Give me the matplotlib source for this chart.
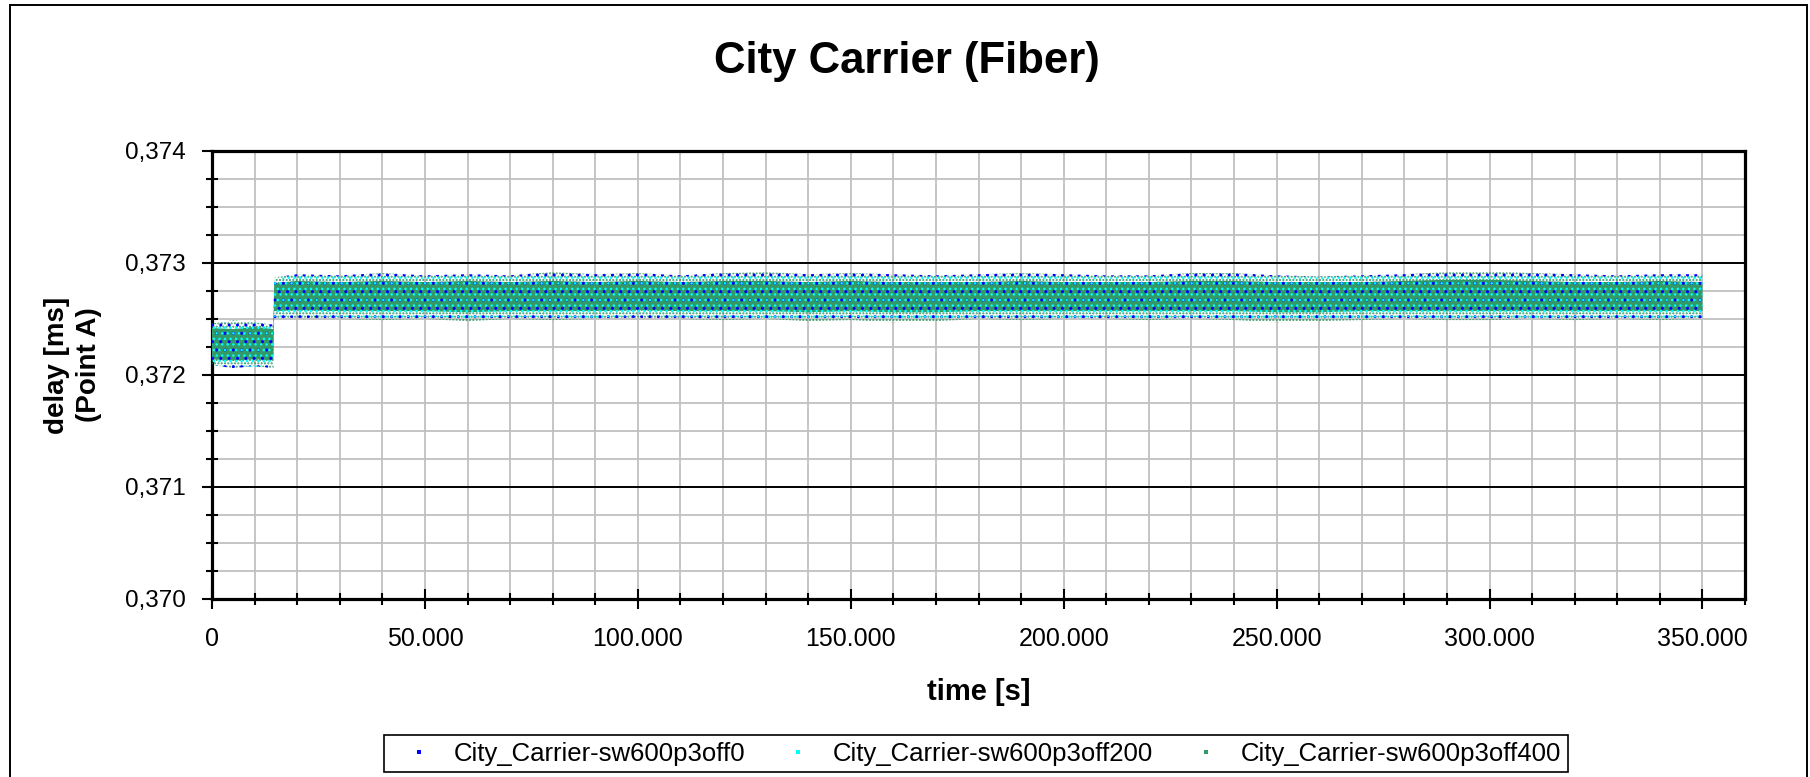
import matplotlib
matplotlib.use("Agg")
import numpy as np
import matplotlib.pyplot as plt
from matplotlib.ticker import MultipleLocator, FuncFormatter
from matplotlib.lines import Line2D
from matplotlib.patches import Rectangle

plt.rcParams["font.family"] = ["Liberation Sans", "DejaVu Sans"]
plt.rcParams["hatch.linewidth"] = 1.0

# ---- text ---------------------------------------------------------------
title = "City Carrier (Fiber)"
x_label = "time [s]"
y_label = "delay [ms]\n(Point A)"
series_names = [
    "City_Carrier-sw600p3off0",
    "City_Carrier-sw600p3off200",
    "City_Carrier-sw600p3off400",
]
series_colors = ["#0000FF", "#00FFFF", "#339966"]

# ---- delay band of each series (upper / lower extent per time knot) -----
time_s = [0, 5000, 10000, 14400,
          14600, 20000, 30000, 40000, 50000, 60000, 70000, 80000, 90000,
          100000, 110000, 120000, 130000, 140000, 150000, 160000, 170000,
          180000, 190000, 200000, 210000, 220000, 230000, 240000, 250000,
          260000, 270000, 280000, 290000, 300000, 310000, 320000, 330000,
          340000, 350000]

off0_hi = [0.37246, 0.37249, 0.37247, 0.37245,
           0.37287, 0.37290, 0.37289, 0.37291, 0.37289, 0.37290, 0.37289,
           0.37292, 0.37290, 0.37291, 0.37289, 0.37291, 0.37292, 0.37290,
           0.37291, 0.37290, 0.37289, 0.37290, 0.37291, 0.37290, 0.37289,
           0.37289, 0.37291, 0.37291, 0.37289, 0.37288, 0.37289, 0.37290,
           0.37292, 0.37293, 0.37291, 0.37290, 0.37289, 0.37290, 0.37290]
off0_lo = [0.37209, 0.37206, 0.37208, 0.37206,
           0.37250, 0.37251, 0.37250, 0.37249, 0.37250, 0.37248, 0.37250,
           0.37249, 0.37250, 0.37251, 0.37250, 0.37249, 0.37250, 0.37248,
           0.37249, 0.37247, 0.37248, 0.37250, 0.37249, 0.37250, 0.37250,
           0.37249, 0.37250, 0.37249, 0.37247, 0.37248, 0.37249, 0.37250,
           0.37249, 0.37249, 0.37250, 0.37249, 0.37250, 0.37249, 0.37250]

off200_hi = [0.37246, 0.37244, 0.37247, 0.37243,
             0.37285, 0.37290, 0.37288, 0.37288, 0.37287, 0.37289, 0.37287,
             0.37289, 0.37288, 0.37289, 0.37287, 0.37289, 0.37289, 0.37288,
             0.37289, 0.37287, 0.37288, 0.37288, 0.37289, 0.37288, 0.37287,
             0.37288, 0.37289, 0.37288, 0.37287, 0.37287, 0.37288, 0.37288,
             0.37290, 0.37290, 0.37289, 0.37288, 0.37287, 0.37289, 0.37288]
off200_lo = [0.37208, 0.37209, 0.37207, 0.37209,
             0.37252, 0.37253, 0.37252, 0.37251, 0.37252, 0.37251, 0.37252,
             0.37252, 0.37251, 0.37253, 0.37252, 0.37252, 0.37251, 0.37251,
             0.37252, 0.37251, 0.37250, 0.37252, 0.37252, 0.37251, 0.37252,
             0.37251, 0.37252, 0.37251, 0.37250, 0.37251, 0.37251, 0.37252,
             0.37251, 0.37252, 0.37251, 0.37252, 0.37252, 0.37251, 0.37252]

off400_hi = [0.37242, 0.37241, 0.37243, 0.37241,
             0.37282, 0.37284, 0.37283, 0.37284, 0.37283, 0.37284, 0.37283,
             0.37284, 0.37283, 0.37284, 0.37283, 0.37284, 0.37284, 0.37283,
             0.37284, 0.37283, 0.37283, 0.37283, 0.37284, 0.37283, 0.37283,
             0.37283, 0.37284, 0.37284, 0.37283, 0.37283, 0.37283, 0.37284,
             0.37285, 0.37285, 0.37284, 0.37283, 0.37283, 0.37284, 0.37283]
off400_lo = [0.37214, 0.37213, 0.37214, 0.37213,
             0.37257, 0.37258, 0.37257, 0.37257, 0.37257, 0.37256, 0.37257,
             0.37257, 0.37257, 0.37258, 0.37257, 0.37257, 0.37257, 0.37256,
             0.37257, 0.37256, 0.37256, 0.37257, 0.37257, 0.37257, 0.37257,
             0.37257, 0.37257, 0.37257, 0.37256, 0.37256, 0.37257, 0.37257,
             0.37257, 0.37257, 0.37257, 0.37257, 0.37257, 0.37257, 0.37257]

# ---- figure ---------------------------------------------------------------
W, H = 1810, 777
fig = plt.figure(figsize=(W / 100, H / 100), dpi=100)
fig.patch.set_facecolor("white")
fig.patches.append(Rectangle((10 / W, -0.02), (1807 - 10) / W, 1 - 5 / H + 0.02,
                             transform=fig.transFigure, fill=False,
                             edgecolor="black", linewidth=1.4))

ax_l, ax_r, ax_t, ax_b = 212, 1745, 151, 599
ax = fig.add_axes([ax_l / W, 1 - ax_b / H, (ax_r - ax_l) / W, (ax_b - ax_t) / H])
ax.set_xlim(0, 360000)
ax.set_ylim(0.370, 0.374)

t = np.array(time_s)
# dense core of the top-most series
ax.fill_between(t, off400_lo, off400_hi, facecolor=series_colors[2],
                edgecolor="none", linewidth=0, zorder=3)
# scattered samples around the core, drawn as speckle texture
ax.fill_between(t, off0_lo, off0_hi, facecolor="none", edgecolor=series_colors[2],
                hatch=".....", linewidth=0, zorder=4)
ax.fill_between(t, off0_lo, off0_hi, facecolor="none", edgecolor=series_colors[0],
                hatch="..", linewidth=0, zorder=5)
ax.fill_between(t, off200_lo, off200_hi, facecolor="none", edgecolor=series_colors[1],
                hatch="...", linewidth=0, zorder=6)

# ---- axes styling ---------------------------------------------------------
ax.xaxis.set_major_locator(MultipleLocator(50000))
ax.xaxis.set_minor_locator(MultipleLocator(10000))
ax.yaxis.set_major_locator(MultipleLocator(0.001))
ax.yaxis.set_minor_locator(MultipleLocator(0.00025))
ax.xaxis.set_major_formatter(FuncFormatter(lambda v, p: f"{int(round(v)):,}".replace(",", ".")))
ax.yaxis.set_major_formatter(FuncFormatter(lambda v, p: f"{v:.3f}".replace(".", ",")))

ax.set_axisbelow(True)
ax.grid(which="both", axis="x", color="#c0c0c0", linewidth=1.3)
ax.grid(which="minor", axis="y", color="#c0c0c0", linewidth=1.3)
ax.grid(which="major", axis="y", color="black", linewidth=1.4)

for s in ax.spines.values():
    s.set_linewidth(2.3)
    s.set_color("black")

ax.tick_params(axis="x", which="major", direction="inout", length=14, width=1.5,
               pad=13, labelsize=18)
ax.tick_params(axis="x", which="minor", direction="inout", length=9, width=1.5)
ax.tick_params(axis="y", which="major", direction="out", length=7, width=1.5,
               pad=12, labelsize=17.5)
ax.tick_params(axis="y", which="minor", direction="inout", length=8, width=1.5)

ax.set_xlabel(x_label, fontsize=21, fontweight="bold")
ax.xaxis.set_label_coords(0.5, (ax_b - 692) / (ax_b - ax_t))
ax.xaxis.label.set_verticalalignment("center")
ax.set_ylabel(y_label, fontsize=20, fontweight="bold", linespacing=1.3)
ax.yaxis.set_label_coords((73 - ax_l) / (ax_r - ax_l), (ax_b - 365) / (ax_b - ax_t))
ax.yaxis.label.set_verticalalignment("center")

fig.text(907 / W, 1 - 62 / H, title, ha="center", va="center",
         fontsize=31.5, fontweight="bold")

handles = [Line2D([], [], linestyle="none", marker="s", markersize=2.2,
                  markeredgewidth=0, color=c) for c in series_colors]
leg = fig.legend(handles, series_names, loc="center",
                 bbox_to_anchor=(976 / W, 1 - 753.5 / H), ncol=3,
                 fontsize=18.5, frameon=True, fancybox=False, shadow=False,
                 edgecolor="black", framealpha=1, borderpad=0.25,
                 handlelength=2.2, handletextpad=0.26, columnspacing=0.95)
leg.get_frame().set_linewidth(1.2)

fig.savefig("out.png", dpi=100, facecolor="white")
